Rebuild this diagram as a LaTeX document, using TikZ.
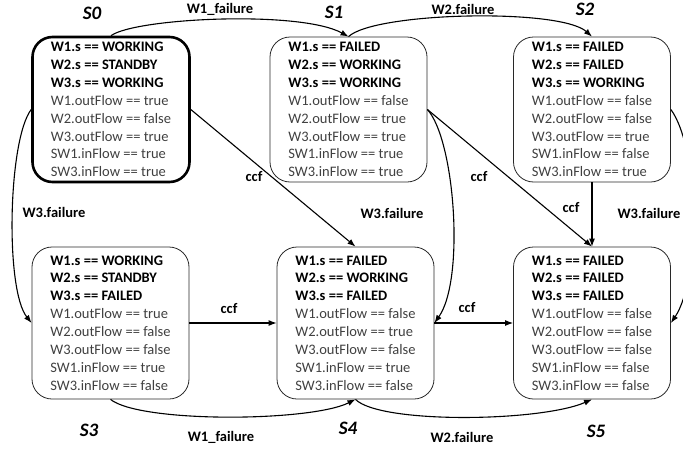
\documentclass[tikz,border=0pt]{standalone}
\usepackage{fontspec}
\setmainfont{Carlito}
\usetikzlibrary{arrows.meta}
\definecolor{txtgray}{RGB}{64,64,64}
\definecolor{edgegray}{RGB}{40,40,40}
\newcommand\boldln[1]{\textbf{#1}}
\newcommand\plainln[1]{\textcolor{txtgray}{#1}}
\begin{document}
\begin{tikzpicture}[x=1pt,y=-1pt,
  state/.style={draw=edgegray, line width=0.8pt, rounded corners=20pt,
    minimum width=157pt, inner sep=0pt, align=left,
    font=\fontsize{14.5}{17.9}\selectfont},
  toprow/.style={state, minimum height=145pt},
  botrow/.style={state, minimum height=152pt},
  initial/.style={draw=black, line width=2.6pt},
  stname/.style={font=\fontsize{19}{22}\selectfont\bfseries\itshape, inner sep=0pt},
  elabel/.style={font=\fontsize{14.5}{17}\selectfont\bfseries, inner sep=0pt},
  trans/.style={line width=1.1pt, -{Latex[length=8pt,width=6pt]}}
]
\useasboundingbox (0,0) rectangle (683,450);

% states
\node[toprow, initial] (S0) at (111,109.5) {%
  \boldln{W1.s == WORKING}\\ \boldln{W2.s == STANDBY}\\ \boldln{W3.s == WORKING}\\
  \plainln{W1.outFlow == true}\\ \plainln{W2.outFlow == false}\\ \plainln{W3.outFlow == true}\\
  \plainln{SW1.inFlow == true}\\ \plainln{SW3.inFlow == true}};
\node[toprow] (S1) at (348.5,109.5) {%
  \boldln{W1.s == FAILED}\\ \boldln{W2.s == WORKING}\\ \boldln{W3.s == WORKING}\\
  \plainln{W1.outFlow == false}\\ \plainln{W2.outFlow == true}\\ \plainln{W3.outFlow == true}\\
  \plainln{SW1.inFlow == true}\\ \plainln{SW3.inFlow == true}};
\node[toprow] (S2) at (592,109.5) {%
  \boldln{W1.s == FAILED}\\ \boldln{W2.s == FAILED}\\ \boldln{W3.s == WORKING}\\
  \plainln{W1.outFlow == false}\\ \plainln{W2.outFlow == false}\\ \plainln{W3.outFlow == true}\\
  \plainln{SW1.inFlow == false}\\ \plainln{SW3.inFlow == true}};
\node[botrow] (S3) at (110.5,323) {%
  \boldln{W1.s == WORKING}\\ \boldln{W2.s == STANDBY}\\ \boldln{W3.s == FAILED}\\
  \plainln{W1.outFlow == true}\\ \plainln{W2.outFlow == false}\\ \plainln{W3.outFlow == false}\\
  \plainln{SW1.inFlow == true}\\ \plainln{SW3.inFlow == false}};
\node[botrow] (S4) at (355.5,323) {%
  \boldln{W1.s == FAILED}\\ \boldln{W2.s == WORKING}\\ \boldln{W3.s == FAILED}\\
  \plainln{W1.outFlow == false}\\ \plainln{W2.outFlow == true}\\ \plainln{W3.outFlow == false}\\
  \plainln{SW1.inFlow == true}\\ \plainln{SW3.inFlow == false}};
\node[botrow] (S5) at (592,323) {%
  \boldln{W1.s == FAILED}\\ \boldln{W2.s == FAILED}\\ \boldln{W3.s == FAILED}\\
  \plainln{W1.outFlow == false}\\ \plainln{W2.outFlow == false}\\ \plainln{W3.outFlow == false}\\
  \plainln{SW1.inFlow == false}\\ \plainln{SW3.inFlow == false}};

% state names
\node[stname] (n0) at (92,13) {S0};
\node[stname] (n1) at (334,12) {S1};
\node[stname] (n2) at (585,9) {S2};
\node[stname] (n3) at (89,430) {S3};
\node[stname] (n4) at (348,428) {S4};
\node[stname] (n5) at (596,431) {S5};

% transitions
\draw[trans] (S0.north) .. controls (135,18) and (300,10) .. (S1.north);
\draw[trans] (S1.north) .. controls (375,12) and (560,8) .. (S2.north);
\draw[trans] (S0.west) .. controls (8,140) and (5,290) .. (S3.west);
\draw[trans] (S0.east) -- (S4.north);
\draw[trans] (S1.east) .. controls (455,140) and (465,280) .. (S4.east);
\draw[trans] (S1.east) -- (S5.north);
\draw[trans] (S2.south) -- (S5.north);
\draw[trans] (S2.east) .. controls (700,150) and (700,280) .. (S5.east);
\draw[trans] (S3.east) -- (S4.west);
\draw[trans] (S4.east) -- (S5.west);
\draw[trans] (S3.south) .. controls (140,423) and (310,422) .. (S4.south);
\draw[trans] (S4.south) .. controls (380,424) and (540,422) .. (S5.south);

% transition labels
\node[elabel] (l01) at (220,9) {W1\_failure};
\node[elabel] (l12) at (463,9) {W2.failure};
\node[elabel] (l03) at (54,212) {W3.failure};
\node[elabel] (l04) at (254,177) {ccf};
\node[elabel] (l14) at (392,213) {W3.failure};
\node[elabel] (l15) at (479,177) {ccf};
\node[elabel] (l25a) at (571,208) {ccf};
\node[elabel] (l25b) at (649,213) {W3.failure};
\node[elabel] (l34a) at (229,309) {ccf};
\node[elabel] (l45a) at (467,308) {ccf};
\node[elabel] (l34b) at (221,437) {W1\_failure};
\node[elabel] (l45b) at (462,437) {W2.failure};
\end{tikzpicture}
\end{document}
